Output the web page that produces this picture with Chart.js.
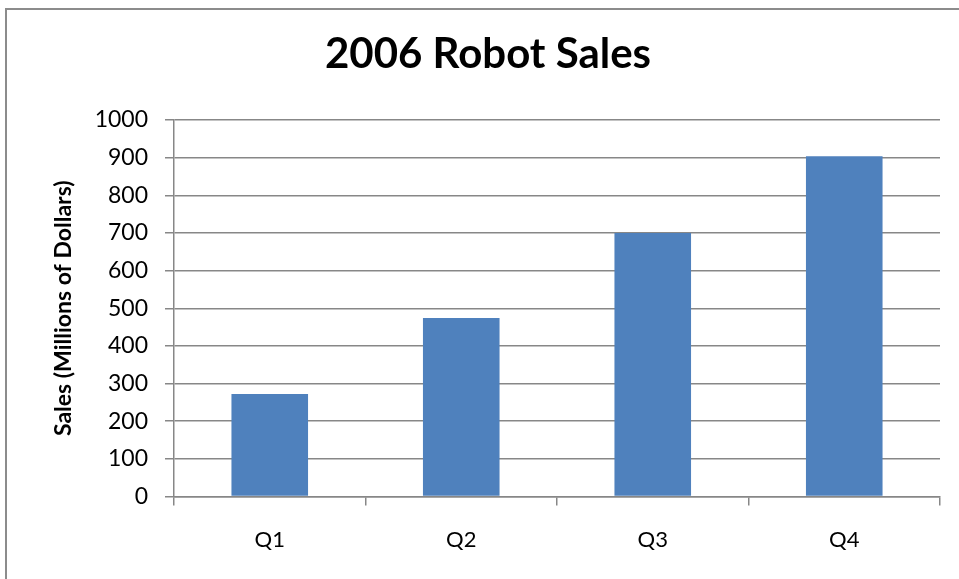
<!DOCTYPE html>
<html>
<head>
<meta charset="utf-8">
<title>2006 Robot Sales</title>
<script src="https://cdn.jsdelivr.net/npm/chart.js@4.4.0/dist/chart.umd.min.js"></script>
<style>
    html, body { margin: 0; padding: 0; background: #fff; }
    #wrap { position: relative; width: 959px; height: 579px; overflow: hidden; }
    #frame {
        position: absolute; left: 5px; top: 8px; width: 1000px; height: 1000px;
        border-left: 2px solid #8c8c8c; border-top: 2px solid #8c8c8c;
        pointer-events: none;
    }
    canvas { position: absolute; left: 0; top: 0; }
</style>
</head>
<body>
<div id="wrap">
    <canvas id="salesChart" width="959" height="579"></canvas>
    <div id="frame"></div>
</div>
<script>
// quarterly sales, millions of dollars
const quarters = ['Q1', 'Q2', 'Q3', 'Q4'];
const sales = [272, 474, 700, 904];
const yTicks = [0, 100, 200, 300, 400, 500, 600, 700, 800, 900, 1000];

const gridColor = '#878787';
const fontFamily = 'Lato, "Open Sans", sans-serif';

document.addEventListener("DOMContentLoaded", function() {
    drawSalesChart(quarters, sales);
});

function drawSalesChart(labels, values) {
    var ctx = document.getElementById('salesChart').getContext('2d');
    var salesChart = new Chart(ctx, {
        type: 'bar',
        data: {
            labels: labels,
            datasets: [{
                label: 'Sales',
                data: values,
                backgroundColor: '#4F81BD',
                borderWidth: 0,
                barPercentage: 0.4,
                categoryPercentage: 1.0
            }]
        },
        options: {
            responsive: false,
            animation: false,
            // left padding keeps the title centred a bit right of the canvas middle
            layout: {
                padding: { left: 36, right: 19, top: 0, bottom: 0 }
            },
            scales: {
                x: {
                    grid: {
                        offset: true,
                        drawOnChartArea: false,
                        drawTicks: true,
                        tickLength: 9,
                        color: gridColor,
                        lineWidth: 1.5
                    },
                    border: { color: gridColor, width: 1.5 },
                    ticks: {
                        color: '#000',
                        padding: 21,
                        font: { family: fontFamily, size: 22 }
                    },
                    afterFit: function(scale) { scale.height = 82.5; }
                },
                y: {
                    min: 0,
                    max: 1000,
                    afterBuildTicks: function(scale) {
                        scale.ticks = yTicks.map(v => ({ value: v }));
                    },
                    grid: {
                        color: gridColor,
                        lineWidth: 1.5,
                        tickLength: 9
                    },
                    border: { color: gridColor, width: 1.5 },
                    ticks: {
                        color: '#000',
                        padding: 17,
                        font: { family: fontFamily, size: 23 },
                        callback: function(value) { return String(value); }
                    },
                    title: {
                        display: true,
                        text: 'Sales (Millions of Dollars)',
                        color: '#000',
                        font: { family: fontFamily, size: 23, weight: 'bold' },
                        padding: { top: 14, bottom: 0 }
                    },
                    afterFit: function(scale) { scale.width = 138; }
                }
            },
            plugins: {
                legend: { display: false },
                tooltip: { enabled: false },
                title: {
                    display: true,
                    text: '2006 Robot Sales',
                    color: '#000',
                    font: { family: fontFamily, size: 42, weight: 'bold', lineHeight: 1.2 },
                    padding: { top: 29, bottom: 40.6 }
                }
            }
        }
    });
}
</script>
</body>
</html>
